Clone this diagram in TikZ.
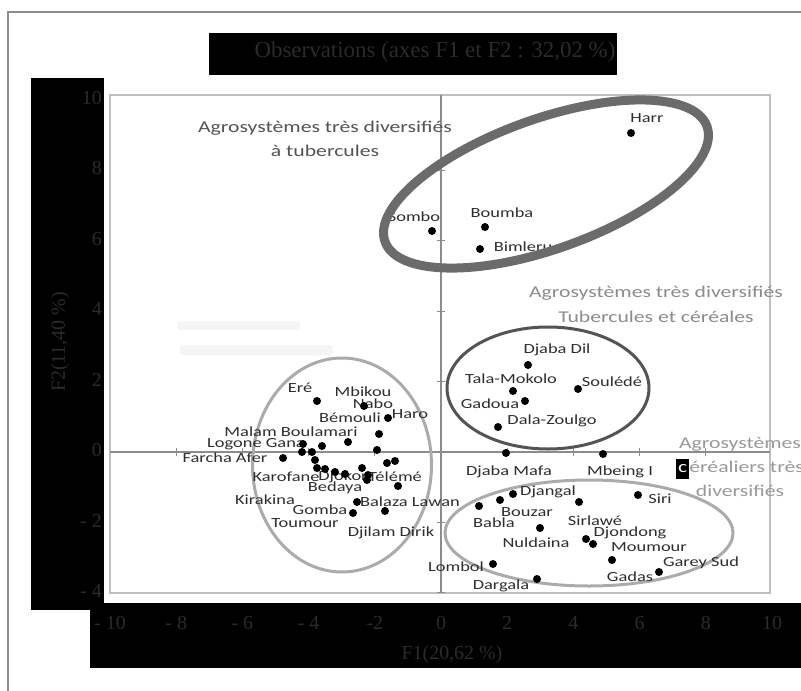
\documentclass[tikz,border=0pt]{standalone}
\usepackage{fontspec}
\setmainfont{Liberation Serif}
\newfontfamily\labfont[FakeStretch=1.32]{Carlito}
\begin{document}
\begin{tikzpicture}[x=1bp,y=-1bp,
  dot/.style={circle,fill=black,inner sep=0pt,minimum size=8bp},
  lbl/.style={font=\labfont\fontsize{14}{16}\selectfont,text=black!82,inner sep=0pt},
  grp/.style={font=\labfont\fontsize{16.5}{24.5}\selectfont,align=center,inner sep=0pt},
  axt/.style={font=\fontsize{20}{22}\selectfont,text=black!83,inner sep=0pt},
  lightell/.style={draw=black!33,line width=3bp},
  axisline/.style={draw=black!45,line width=1.5bp}
]
\useasboundingbox (0,0) rectangle (801,691);
\fill[white] (0,0) rectangle (801,691);
% outer frame
\draw[black!45,line width=2bp] (8,691) -- (8,12) -- (801,12);
% black boxes
\fill[black] (209,33) rectangle (617,75);
\fill[black] (31,78) rectangle (104,610);
\fill[black] (90,603) rectangle (801,668);
% plot frame
\draw[black!25,line width=2bp] (110,95) rectangle (770,593);
% faint smudges
\fill[black!4,rounded corners=3bp] (177,321) rectangle (300,330);
\fill[black!4,rounded corners=3bp] (180,345) rectangle (333,355);
% zero axes and ticks
\draw[axisline] (441,95) -- (441,593);
\draw[axisline] (110,452) -- (770,452);
\foreach \v in {-4,-2,2,4,6,8}
  \draw[axisline,line width=1.2bp] (437,{452-35.2*(\v)}) -- (445,{452-35.2*(\v)});
\foreach \v in {-8,-6,-4,-2,2,4,6,8}
  \draw[axisline,line width=1.2bp] ({441+33.1*(\v)},448) -- ({441+33.1*(\v)},456);
% title and axes text
\node[font=\fontsize{23}{25}\selectfont,text=black!83,inner sep=0pt] (title) at (435,52) {Observations (axes F1 et F2 : 32,02 \%)};
\foreach \v/\t [count=\i] in {10/10,8/8,6/6,4/4,2/2,0/0,-2/{- 2},-4/{- 4}}
  \node[axt,anchor=east] (yt\i) at (102,{450-35.2*(\v)}) {\t};
\foreach \v/\t [count=\i] in {-10/{- 10},-8/{- 8},-6/{- 6},-4/{- 4},-2/{-2},0/0,2/2,4/4,6/6,8/8,10/10}
  \node[axt] (xt\i) at ({441+33.1*(\v)},623) {\t};
\node[axt] (f1) at (452,655) {F1(20,62 \%)};
\node[axt,rotate=90] (f2) at (60,342) {F2(11,40 \%)};
% light ellipses
\draw[lightell] (342,465) ellipse [x radius=89.5, y radius=107];
\draw[lightell] (589,533) ellipse [x radius=144, y radius=53];
% group labels
\node[grp,text=black!67] (g1) at (325,139) {Agrosystèmes très diversifiés\\à tubercules};
\node[grp,text=black!45] (g2) at (656,304.5) {Agrosystèmes très diversifiés\\Tubercules et céréales};
\node[grp,text=black!40] (g3) at (740,467) {Agrosystèmes\\{\setlength\fboxsep{2pt}\colorbox{black}{\rule[-4pt]{0pt}{16pt}\textcolor{white}{c}}}éréaliers très\\diversifiés};
% point labels
\foreach \x/\y/\t [count=\i] in {
  647/118/Harr, 414/217/Sombo, 502/213/Boumba, 523/247/Bimleru,
  557/350/Djaba Dil, 511/379/Tala-Mokolo, 612/382/Soulédé, 490/404/Gadoua, 552/421/Dala-Zoulgo,
  509/472/Djaba Mafa, 620/472/Mbeing I, 660/499/Siri,
  548/492/Djangal, 527/512/Bouzar, 494/523/Babla, 595/521/Sirlawé, 536/543/Nuldaina,
  630/533/Djondong, 649/547/Moumour, 701/563/Garey Sud, 630/577/Gadas, 456/567/Lombol, 501/586/Dargala,
  300/388/Eré, 363/392/Mbikou, 373/404/Nabo, 350/418/Bémouli, 410/414/Haro,
  291/432/Malam Boulamari, 256/444/Logone Gana, 225/458/Farcha Afer, 286/477/Karofane,
  343/477/Djokor, 395/477/Télémé, 335/488/Bedaya, 265/500/Kirakina, 320/510/Gomba,
  410/502/Balaza Lawan, 305/523/Toumour, 391/533/Djilam Dirik}
  \node[lbl] (l\i) at (\x,\y) {\t};
% dark ellipses
\draw[black!67,line width=3bp] (548,388) ellipse [x radius=101, y radius=61];
\draw[black!58,line width=9bp,rotate around={19.7:(546,184)}] (546,184) ellipse [x radius=171, y radius=65];
% points
\foreach \x/\y [count=\i] in {
  631/133, 432/231, 485/227, 480/249,
  528/365, 513/391, 578/389, 525/401, 498/427,
  506/453, 603/454, 638/495,
  513/494, 500/500, 479/506, 579/502, 540/528, 586/539, 593/544, 612/560, 659/572, 493/564, 537/579,
  317/401, 364/406, 388/418, 379/434, 348/442, 377/450, 303/444, 322/446, 302/452, 312/452,
  283/458, 315/460, 317/468, 325/469, 335/472, 362/468, 368/475, 367/480, 387/463, 395/461,
  398/486, 357/502, 353/513, 385/511, 345/474}
  \node[dot] (p\i) at (\x,\y) {};
\end{tikzpicture}
\end{document}
